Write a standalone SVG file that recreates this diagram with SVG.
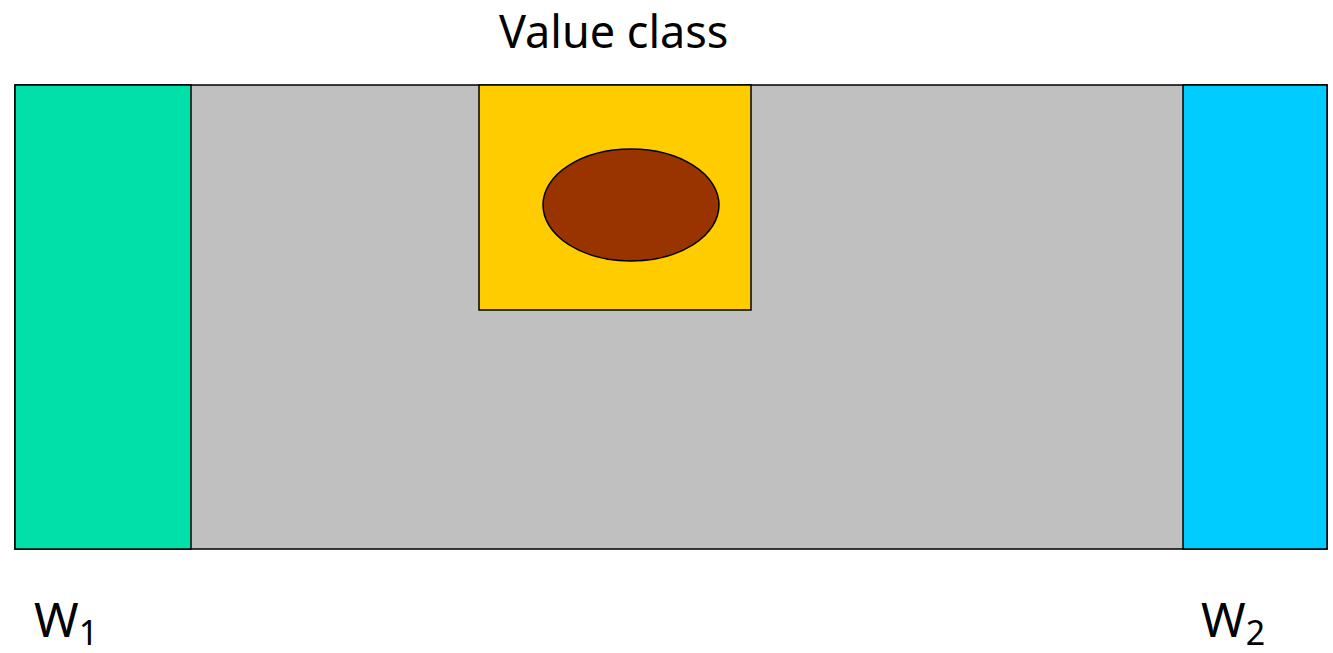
<svg xmlns="http://www.w3.org/2000/svg" width="1333" height="653" viewBox="0 0 1333 653">
<style>
.s{stroke:#000;stroke-width:1.5}
.t{font-family:"Noto Sans","DejaVu Sans",sans-serif;fill:#000}
</style>
<rect width="1333" height="653" fill="#fff"/>
<g id="body"><rect class="s" x="15" y="85" width="1312" height="464" fill="#c0c0c0"/></g>
<g id="w1-wall"><rect class="s" x="15" y="85" width="176" height="464" fill="#00e0a8"/></g>
<g id="w2-wall"><rect class="s" x="1183" y="85" width="144" height="464" fill="#00ccff"/></g>
<g id="value-class"><rect class="s" x="479" y="85" width="272" height="225" fill="#ffcc00"/>
<ellipse class="s" cx="631" cy="205" rx="88" ry="56" fill="#993300"/></g>
<g id="connectors"></g>
<g id="labels">
<text class="t" x="499" y="48" font-size="45">Value class</text>
<text class="t" x="34" y="637" font-size="48">W<tspan font-size="34" dy="8">1</tspan></text>
<text class="t" x="1201" y="637" font-size="48">W<tspan font-size="34" dy="8">2</tspan></text>
</g>
</svg>
